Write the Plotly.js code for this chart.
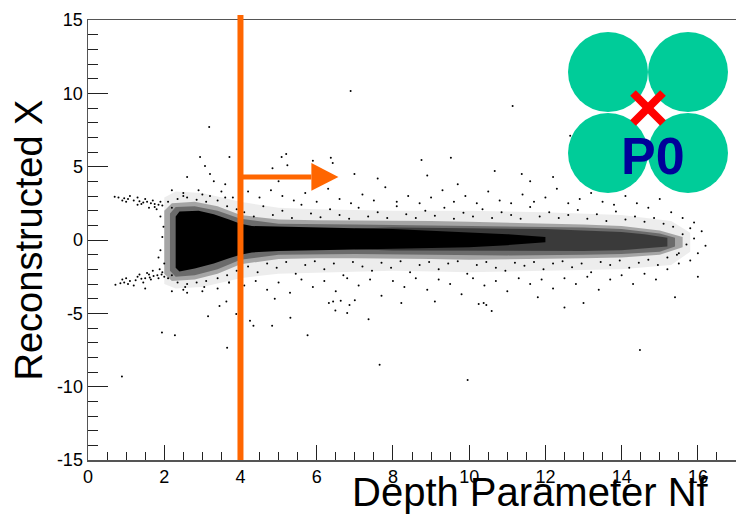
<!DOCTYPE html>
<html><head><meta charset="utf-8">
<script src="https://cdn.plot.ly/plotly-3.0.1.min.js"></script>
<style>html,body{margin:0;padding:0;background:#fff}#chart{width:736px;height:517px}</style>
</head><body><div id="chart"></div>
<script>
// ---- tick labels ----
const xTickVals = [0, 2, 4, 6, 8, 10, 12, 14, 16];
const xTickText = ["0", "2", "4", "6", "8", "10", "12", "14", "16"];
const yTickVals = [-15, -10, -5, 0, 5, 10, 15];
const yTickText = ["-15", "-10", "-5", "0", "5", "10", "15"];

// ---- density envelopes (x = Nf, y = reconstructed X) ----
const haloX = [2.0, 2.3, 3.0, 4.0, 5.0, 6.0, 8.0, 10.0, 12.0, 14.0, 15.3, 15.8, 15.8, 15.3, 14.0, 12.0, 10.0, 8.0, 6.0, 5.0, 4.0, 3.0, 2.3, 2.0];
const haloY = [2.9, 3.3, 3.2, 2.6, 2.2, 2.1, 2.0, 2.0, 1.9, 1.7, 1.3, 0.5, -0.8, -1.7, -2.0, -2.1, -2.2, -2.1, -2.2, -2.3, -2.6, -3.2, -3.3, -3.0];
const midX = [2.0, 2.2, 2.8, 3.4, 4.0, 5.0, 6.0, 7.0, 8.0, 9.0, 10.0, 11.0, 12.0, 13.0, 14.0, 15.0, 15.6, 15.6, 15.0, 14.0, 13.0, 12.0, 11.0, 10.0, 9.0, 8.0, 7.0, 6.0, 5.0, 4.0, 3.4, 2.8, 2.2, 2.0];
const midY = [2.0, 2.5, 2.6, 2.3, 1.7, 1.4, 1.35, 1.35, 1.35, 1.3, 1.25, 1.2, 1.15, 1.05, 0.95, 0.65, 0.2, -0.5, -1.0, -1.2, -1.25, -1.3, -1.35, -1.35, -1.3, -1.25, -1.25, -1.25, -1.3, -1.65, -2.3, -2.7, -2.8, -2.3];
const mid2X = [2.15, 2.3, 2.8, 3.4, 4.0, 5.0, 7.0, 9.0, 11.0, 13.0, 14.0, 15.0, 15.4, 15.4, 15.0, 14.0, 13.0, 11.0, 9.0, 7.0, 5.0, 4.0, 3.4, 2.8, 2.3, 2.15];
const mid2Y = [1.8, 2.25, 2.3, 2.0, 1.45, 1.1, 1.05, 1.0, 0.95, 0.85, 0.75, 0.45, 0.15, -0.45, -0.8, -0.95, -1.0, -1.05, -1.0, -0.95, -1.0, -1.35, -2.0, -2.4, -2.5, -2.1];
const innerX = [7.0, 8.0, 10.0, 12.0, 13.0, 14.0, 14.6, 15.2, 15.2, 14.6, 14.0, 13.0, 12.0, 10.0, 8.0, 7.0];
const innerY = [0.78, 0.85, 0.8, 0.75, 0.65, 0.55, 0.4, 0.15, -0.45, -0.6, -0.7, -0.75, -0.75, -0.75, -0.72, -0.63];
const coreX = [2.3, 2.4, 2.9, 3.3, 3.7, 4.0, 4.3, 5.0, 6.0, 7.0, 8.0, 9.0, 10.0, 11.0, 12.0, 12.0, 11.0, 10.0, 9.0, 8.0, 7.0, 6.0, 5.0, 4.3, 4.0, 3.7, 3.3, 2.8, 2.4, 2.3];
const coreY = [1.6, 1.95, 2.0, 1.75, 1.4, 1.1, 0.95, 0.9, 0.85, 0.8, 0.75, 0.65, 0.55, 0.4, 0.2, -0.15, -0.35, -0.5, -0.55, -0.6, -0.65, -0.7, -0.75, -0.85, -1.0, -1.25, -1.6, -1.95, -2.15, -1.9];

// ---- individual events ----
const wingX = [0.7, 0.8, 0.95, 1.05, 1.2, 1.35, 1.45, 1.55, 1.65, 1.75, 1.85, 1.95, 1.3, 1.6, 1.8, 1.9, 1.98, 1.95, 1.9, 1.85, 2.0,
  0.72, 0.85, 0.95, 1.1, 1.25, 1.4, 1.5, 1.62, 1.72, 1.82, 1.93, 1.35, 1.55, 1.7, 1.88, 2.0, 1.2, 1.5, 2.2, 2.6, 3.0,
  2.1, 2.35, 2.6, 2.85, 3.1, 3.4, 3.65, 3.9, 2.2, 2.5, 3.0, 3.6, 2.1, 2.35, 2.6, 2.85, 3.1, 3.4, 3.65, 3.9, 2.2, 2.55, 3.05, 3.7,
  0.9, 1.1, 1.3, 1.5, 1.7, 1.9, 1.0, 1.4, 1.75, 0.9, 1.05, 1.3, 1.45, 1.65, 1.85, 1.0, 1.6, 1.95];
const wingY = [2.95, 2.9, 2.85, 2.8, 2.7, 2.65, 2.55, 2.6, 2.5, 2.45, 2.4, 2.35, 2.4, 2.2, 2.1, 1.6, 0.9, 0.2, -0.7, -1.2, -1.6,
  -3.05, -2.95, -2.9, -2.8, -2.75, -2.65, -2.6, -2.55, -2.45, -2.4, -2.35, -2.35, -2.25, -2.1, -2.0, -2.5, -3.1, -3.3, -3.5, -3.6, -3.5,
  2.6, 2.8, 2.9, 2.75, 2.6, 2.7, 2.3, 2.1, 2.2, 3.0, 3.1, 2.9, -2.6, -2.9, -3.0, -2.9, -2.8, -2.6, -2.4, -2.1, -2.4, -3.2, -3.2, -2.9,
  2.7, 3.0, 2.9, 2.8, 2.7, 2.6, 2.6, 2.45, 2.25, -2.7, -3.0, -2.5, -2.9, -2.7, -2.6, -2.6, -2.35, -2.2];
const fringeX = [4.1, 4.35, 4.6, 4.85, 5.1, 5.35, 5.6, 5.85, 6.1, 6.35, 6.6, 6.85, 7.1, 7.35, 7.6, 7.85, 8.1, 8.35, 8.6, 8.85, 9.1, 9.35, 9.6,
  9.85, 10.1, 10.35, 10.6, 10.85, 11.1, 11.35, 11.6, 11.85, 12.1, 12.35, 12.6, 12.85, 13.1, 13.35, 13.6, 13.85, 14.1, 14.35, 14.6, 14.85, 15.1, 15.35,
  4.2, 4.45, 4.7, 4.95, 5.2, 5.45, 5.7, 5.95, 6.2, 6.45, 6.7, 6.95, 7.2, 7.45, 7.7, 7.95, 8.2, 8.45, 8.7, 8.95, 9.2, 9.45, 9.7, 9.95, 10.2,
  10.45, 10.7, 10.95, 11.2, 11.45, 11.7, 11.95, 12.2, 12.45, 12.7, 12.95, 13.2, 13.45, 13.7, 13.95, 14.2, 14.45, 14.7, 14.95, 15.2, 15.45];
const fringeY = [1.9, 1.6, 2.3, 1.7, 2.0, 1.5, 2.4, 1.8, 1.55, 2.1, 1.7, 1.45, 2.2, 1.6, 1.9, 1.5, 2.3, 1.75, 1.5, 2.0, 1.65, 2.2, 1.45,
  1.85, 1.6, 2.1, 1.5, 1.9, 1.7, 1.45, 2.25, 1.6, 1.9, 1.5, 1.7, 2.05, 1.45, 1.75, 1.3, 1.95, 1.4, 1.6, 1.25, 1.5, 1.1, 0.9,
  -1.8, -2.2, -1.6, -1.9, -1.5, -2.3, -1.7, -1.45, -2.0, -1.6, -2.4, -1.5, -1.8, -2.1, -1.55, -1.9, -1.45, -2.2, -1.7, -1.5, -2.0, -1.6, -1.45, -2.3, -1.7,
  -1.5, -1.9, -2.1, -1.55, -1.75, -1.5, -2.0, -1.6, -1.45, -1.85, -1.6, -2.2, -1.5, -1.7, -1.4, -1.9, -1.55, -1.35, -1.7, -1.2, -1.0];
const haloPtX = [2.2, 2.5, 2.9, 3.2, 3.5, 3.8, 3.3, 3.6, 2.6, 4.2, 4.5, 4.8, 5.1, 5.4, 5.7, 6.0, 6.3, 6.6, 6.9, 7.2, 7.5, 7.8, 8.1, 8.4, 8.7, 9.0,
  9.3, 9.6, 9.9, 10.2, 10.5, 10.8, 11.1, 11.4, 11.7, 12.0, 12.3, 12.6, 12.9, 13.2, 13.5, 13.8, 14.1, 14.4, 14.7, 15.0, 15.3, 15.6, 15.9, 16.1,
  5.0, 7.6, 9.7, 11.6, 13.7, 8.9, 12.2,
  2.5, 3.4, 3.7, 4.1, 4.4, 4.7, 5.0, 5.3, 5.6, 5.9, 6.2, 6.5, 6.8, 7.1, 7.4, 7.7, 8.0, 8.3, 8.6, 8.9, 9.2, 9.5, 9.8, 10.1, 10.4, 10.7,
  11.0, 11.3, 11.6, 11.9, 12.2, 12.5, 12.8, 13.1, 13.4, 13.7, 14.0, 14.3, 14.6, 14.9, 15.2, 15.5, 15.8, 16.0,
  4.9, 7.0, 9.1, 11.8, 13.0, 15.4, 12.5, 16.0,
  15.6, 15.7, 15.9, 16.2, 15.5, 15.8];
const haloPtY = [3.4, 3.2, 3.4, 3.0, 3.3, 2.9, 4.0, 3.8, 4.3, 3.3, 2.9, 3.4, 3.0, 2.7, 3.2, 2.6, 3.5, 2.8, 2.5, 3.1, 2.7, 3.6, 2.6, 3.0, 2.5, 2.9,
  3.4, 2.6, 3.0, 2.5, 3.3, 2.7, 2.5, 3.1, 2.6, 2.9, 3.5, 2.5, 2.8, 3.2, 2.6, 2.4, 3.0, 2.5, 2.2, 2.8, 1.9, 1.5, 1.2, 0.6,
  4.0, 4.2, 3.8, 4.0, 3.7, 4.4, 4.3,
  -3.4, -3.3, -2.9, -3.1, -2.8, -3.4, -2.9, -3.6, -2.7, -3.2, -2.8, -3.5, -2.6, -3.1, -2.7, -3.8, -2.8, -3.2, -2.6, -3.4, -2.7, -3.0, -3.7, -2.6, -3.1, -2.8,
  -3.5, -2.6, -3.0, -2.7, -3.3, -2.6, -3.0, -2.5, -3.4, -2.7, -2.4, -3.0, -2.3, -2.7, -2.0, -1.6, -1.4, -0.9,
  -4.0, -4.1, -4.2, -3.9, -4.3, -3.9, -4.6, -2.5,
  0.4, -0.3, 0.1, -0.4, -0.9, 0.8];
const outX = [6.89, 11.14, 3.18, 2.94, 3.71, 3.07, 3.2, 4.02, 4.84, 5.08, 5.2, 5.23, 5.9, 6.37, 6.42, 6.99, 8.75, 9.52, 10.67, 11.38, 12.65,
  3.63, 3.45, 3.15, 3.89, 1.94, 2.28, 3.65, 0.89, 4.25, 4.34, 4.83, 5.31, 5.76, 6.32, 6.43, 6.63, 6.49, 6.8, 6.86, 7.36, 7.65, 8.22, 9.96,
  10.25, 10.38, 10.45, 10.59, 14.48];
const outY = [10.16, 9.13, 7.7, 5.66, 5.66, 5.04, 4.5, 4.98, 4.9, 5.66, 5.87, 5.1, 5.4, 5.6, 5.25, 4.5, 5.45, 5.6, 4.7, 4.5, 7.1,
  -4.2, -4.5, -5.2, -5.05, -6.3, -6.5, -7.35, -9.3, -5.5, -5.85, -5.85, -5.3, -6.5, -4.3, -4.2, -4.15, -4.8, -4.98, -4.43, -5.4, -8.5, -4.3, -9.55,
  -4.36, -4.3, -4.43, -4.84, -7.5];

// ---- overlay geometry (arrow marking the Nf > 4 cut) ----
const cutNf = 4;
const arrowY = 4.3;
const arrowHeadBase = 5.86;
const arrowTip = 6.57;
const arrowHalfH = 0.95;

function fillTrace(x, y, color) {
  return {x: x, y: y, type: "scatter", mode: "lines", fill: "toself", fillcolor: color,
    line: {width: 0, color: color}, hoverinfo: "skip", showlegend: false};
}
function dotTrace(x, y) {
  return {x: x, y: y, type: "scatter", mode: "markers",
    marker: {size: 2, color: "#000", line: {width: 0}}, hoverinfo: "x+y", showlegend: false};
}

const data = [
  fillTrace(haloX, haloY, "rgba(0,0,0,0.07)"),
  fillTrace(midX, midY, "rgba(0,0,0,0.3)"),
  fillTrace(mid2X, mid2Y, "rgba(0,0,0,0.35)"),
  fillTrace(innerX, innerY, "rgba(0,0,0,0.45)"),
  fillTrace(coreX, coreY, "#000"),
  dotTrace(wingX, wingY),
  dotTrace(fringeX, fringeY),
  dotTrace(haloPtX, haloPtY),
  dotTrace(outX, outY)
];

const orange = "rgb(255,102,0)";
const green = "rgb(0,204,153)";
const W = 648, H = 440, L = 88, T = 20;
function px(v) { return (v - L) / W; }
function py(v) { return (T + H - v) / H; }
function circ(cx, cy, r) {
  return {type: "circle", xref: "paper", yref: "paper", x0: px(cx - r), x1: px(cx + r), y0: py(cy + r), y1: py(cy - r),
    fillcolor: green, line: {width: 0}, layer: "above"};
}

const shapes = [
  {type: "line", xref: "x", yref: "paper", x0: cutNf, x1: cutNf, y0: 0, y1: py(15), line: {color: orange, width: 6}},
  {type: "line", xref: "x", yref: "y", x0: cutNf, x1: arrowHeadBase, y0: arrowY, y1: arrowY, line: {color: orange, width: 5}},
  {type: "path", xref: "x", yref: "y",
    path: "M " + arrowHeadBase + "," + (arrowY + arrowHalfH) + " L " + arrowTip + "," + arrowY + " L " + arrowHeadBase + "," + (arrowY - arrowHalfH) + " Z",
    fillcolor: orange, line: {width: 0}},
  circ(608, 72, 40), circ(688, 72, 40), circ(608, 153, 40), circ(688, 153, 40),
  {type: "line", xref: "paper", yref: "paper", x0: px(633), y0: py(93), x1: px(663), y1: py(123), line: {color: "#ff0000", width: 8}},
  {type: "line", xref: "paper", yref: "paper", x0: px(633), y0: py(123), x1: px(663), y1: py(93), line: {color: "#ff0000", width: 8}}
];

const font = "'Liberation Sans', Arial, Helvetica, sans-serif";
const layout = {
  width: 736, height: 517,
  margin: {l: 88, r: 0, t: 20, b: 57, pad: 0},
  paper_bgcolor: "#fff", plot_bgcolor: "#fff",
  showlegend: false,
  font: {family: font, color: "#000"},
  xaxis: {
    range: [0, 17], tickmode: "array", tickvals: xTickVals, ticktext: xTickText,
    ticks: "inside", ticklen: 15, tickwidth: 1, tickcolor: "#222",
    minor: {dtick: 0.5, tick0: 0, ticks: "inside", ticklen: 8, tickwidth: 1, tickcolor: "#222", showgrid: false},
    showline: true, linecolor: "#555", linewidth: 1.5, mirror: true,
    showgrid: false, zeroline: false,
    tickfont: {family: font, size: 18, color: "#000"}
  },
  yaxis: {
    range: [-15, 15], tickmode: "array", tickvals: yTickVals, ticktext: yTickText,
    ticks: "inside", ticklen: 20, tickwidth: 1, tickcolor: "#222",
    minor: {dtick: 1, tick0: 0, ticks: "inside", ticklen: 10, tickwidth: 1, tickcolor: "#222", showgrid: false},
    showline: true, linecolor: "#555", linewidth: 1.5,
    showgrid: false, zeroline: false,
    tickfont: {family: font, size: 18, color: "#000"},
    title: {text: "Reconstructed X", font: {family: font, size: 38, color: "#000"}, standoff: 2}
  },
  shapes: shapes,
  annotations: [
    {text: "Depth Parameter Nf", xref: "paper", yref: "paper", x: px(711), y: py(492), xanchor: "right", yanchor: "middle",
      showarrow: false, font: {family: font, size: 40, color: "#000"}},
    {text: "<b>P0</b>", xref: "paper", yref: "paper", x: px(653), y: py(156), xanchor: "center", yanchor: "middle",
      showarrow: false, font: {family: font, size: 52, color: "#000099"}}
  ]
};

Plotly.newPlot("chart", data, layout, {displayModeBar: false, staticPlot: true});
</script></body></html>
